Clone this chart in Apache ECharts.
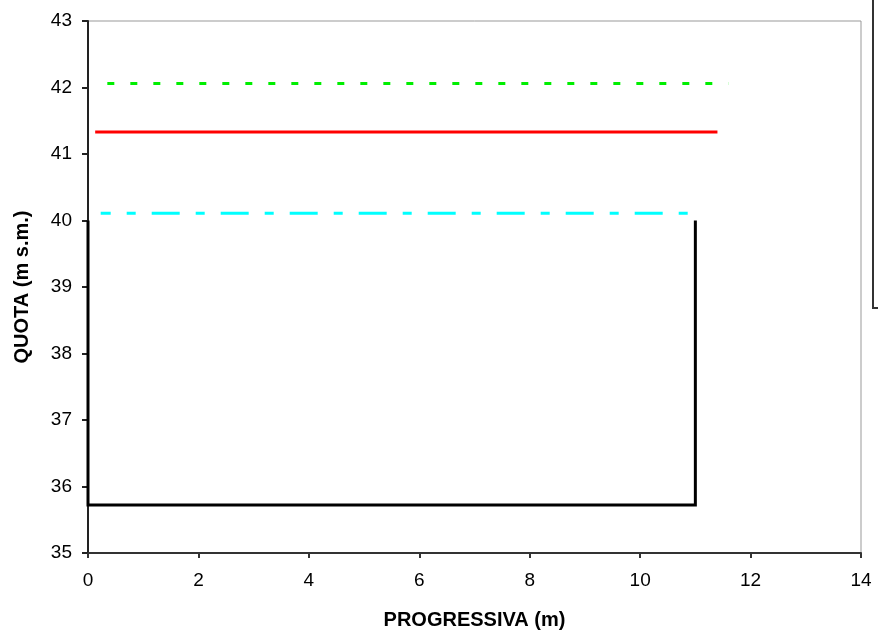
<!DOCTYPE html>
<html>
<head>
<meta charset="utf-8">
<script src="https://cdn.jsdelivr.net/npm/echarts@6/dist/echarts.min.js"></script>
<style>html,body{margin:0;padding:0;background:#fff;}#c{width:878px;height:638px;}</style>
</head>
<body>
<div id="c"></div>
<script>
const xTicks = [0, 2, 4, 6, 8, 10, 12, 14];
const yTicks = [35, 36, 37, 38, 39, 40, 41, 42, 43];
const greenLine = [[0.35, 42.06], [11.6, 42.06]];
const redLine = [[0.13, 41.33], [11.4, 41.33]];
const cyanLine = [[0.23, 40.11], [11.03, 40.11]];
const section = [[0, 40.0], [0, 35.72], [11.0, 35.72], [11.0, 40.0]];

const chart = echarts.init(document.getElementById('c'), null, {renderer: 'canvas'});
const font = 'Liberation Sans, Arial, sans-serif';
chart.setOption({
  animation: false,
  backgroundColor: '#fff',
  grid: {left: 88, right: 17, top: 21, bottom: 85, show: true, borderColor: '#999', borderWidth: 1},
  xAxis: {
    type: 'value', min: xTicks[0], max: xTicks[xTicks.length - 1], interval: 2,
    name: 'PROGRESSIVA (m)', nameLocation: 'middle', nameGap: 57,
    nameTextStyle: {fontFamily: font, fontWeight: 'bold', fontSize: 20, color: '#000'},
    axisLine: {show: true, lineStyle: {color: '#333', width: 2}},
    axisTick: {show: true, length: 5, lineStyle: {color: '#333', width: 2}},
    axisLabel: {fontFamily: font, fontSize: 19, color: '#000', margin: 18},
    splitLine: {show: false}
  },
  yAxis: {
    type: 'value', min: yTicks[0], max: yTicks[yTicks.length - 1], interval: 1,
    name: 'QUOTA (m s.m.)', nameLocation: 'middle', nameGap: 56, nameRotate: 90,
    nameTextStyle: {fontFamily: font, fontWeight: 'bold', fontSize: 20, color: '#000'},
    axisLine: {show: true, lineStyle: {color: '#222', width: 2}},
    axisTick: {show: true, length: 6, lineStyle: {color: '#222', width: 2}},
    axisLabel: {fontFamily: font, fontSize: 19, color: '#000', margin: 16},
    splitLine: {show: false}
  },
  series: [
    {type: 'line', data: section, symbol: 'none', z: 5,
     lineStyle: {color: '#000', width: 3, join: 'miter'}},
    {type: 'line', data: greenLine, symbol: 'none',
     lineStyle: {color: '#00ee00', width: 3, type: [7, 16]}},
    {type: 'line', data: redLine, symbol: 'none',
     lineStyle: {color: '#ff0000', width: 3}},
    {type: 'line', data: cyanLine, symbol: 'none',
     lineStyle: {color: '#00ffff', width: 3, type: [28, 16, 9, 16], dashOffset: 18}}
  ],
  graphic: [
    {type: 'rect', shape: {x: 873, y: -5, width: 20, height: 313},
     style: {fill: '#fff', stroke: '#333', lineWidth: 2}}
  ]
});
</script>
</body>
</html>
